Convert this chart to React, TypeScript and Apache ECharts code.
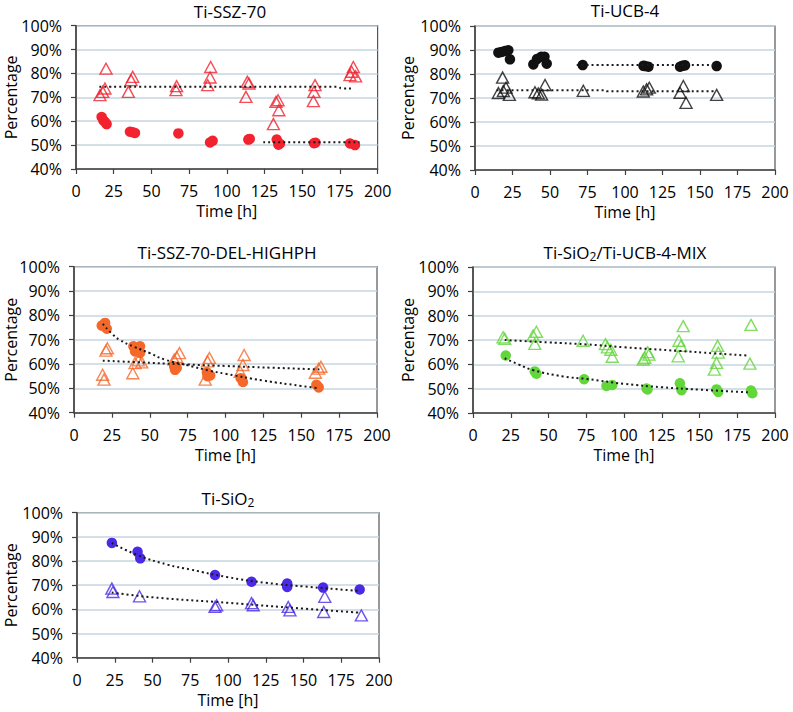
import React, { useEffect, useRef } from "react";
import * as echarts from "echarts";

// ---------- Data (x = Time [h], y = Percentage) ----------
const titles = ["Ti-SSZ-70", "Ti-UCB-4", "Ti-SSZ-70-DEL-HIGHPH", "Ti-SiO{s|2}/Ti-UCB-4-MIX", "Ti-SiO{s|2}"];
const yTicks = [40, 50, 60, 70, 80, 90, 100];
const xTicks = [0, 25, 50, 75, 100, 125, 150, 175, 200];

// Panel 1: Ti-SSZ-70
const ssz70Circles = [
  [17.0, 61.8], [18.1, 60.4], [19.2, 59.7], [20.3, 58.8], [35.8, 55.6], [37.5, 55.4], [39.1, 55.1],
  [67.9, 54.9], [88.9, 51.1], [90.6, 51.8], [114.3, 52.3], [115.2, 52.6], [133.1, 52.3], [134.2, 50.2],
  [135.2, 50.6], [157.8, 50.8], [158.8, 51.0], [181.7, 50.7], [185.0, 50.0],
];
const ssz70Triangles = [
  [15.9, 70.9], [17.7, 72.3], [19.2, 73.7], [19.9, 82.0], [34.7, 72.3], [36.5, 77.2], [37.6, 78.6],
  [66.3, 73.0], [66.7, 74.7], [87.3, 75.1], [88.9, 78.3], [89.3, 82.7], [112.7, 70.2], [113.6, 76.5],
  [114.7, 75.8], [130.9, 58.8], [132.6, 68.1], [134.0, 68.8], [134.5, 64.6], [157.4, 68.4],
  [157.8, 72.3], [158.5, 75.1], [181.7, 79.3], [182.8, 80.7], [183.9, 82.7], [185.4, 78.8],
];
const ssz70TrendCircles = [[124.2, 51.2], [188.0, 51.2]];
const ssz70TrendTriangles = [[15.5, 74.4], [174.0, 74.4], [176.0, 73.7], [183.0, 73.7]];

// Panel 2: Ti-UCB-4
const ucb4Circles = [
  [15.6, 88.9], [17.8, 89.2], [20.0, 89.6], [22.2, 89.9], [23.3, 86.1], [38.9, 84.0], [41.3, 86.2],
  [44.2, 87.2], [46.3, 87.2], [47.8, 84.3], [71.8, 83.7], [112.3, 83.4], [113.3, 83.3], [115.6, 83.0],
  [136.7, 83.0], [138.3, 83.4], [140.0, 83.6], [161.1, 83.3],
];
const ucb4Triangles = [
  [15.6, 72.1], [18.4, 78.5], [18.9, 72.9], [20.7, 74.3], [22.9, 71.3], [40.0, 72.4], [42.2, 71.9],
  [44.4, 71.4], [46.7, 75.4], [72.2, 73.0], [112.2, 72.7], [114.4, 73.6], [116.2, 74.3], [136.7, 72.2],
  [138.9, 75.0], [140.7, 68.0], [161.1, 71.3],
];
const ucb4TrendCircles = [[67.8, 83.7], [161.1, 83.7]];
const ucb4TrendTriangles = [[14.4, 73.2], [86.0, 73.2], [88.0, 72.8], [161.1, 72.8]];

// Panel 3: Ti-SSZ-70-DEL-HIGHPH
const delCircles = [
  [18.3, 75.8], [20.5, 76.9], [21.6, 74.5], [39.2, 67.3], [40.3, 65.2], [43.6, 67.3], [43.6, 64.6],
  [66.1, 59.0], [66.7, 57.6], [67.8, 58.4], [87.7, 56.6], [88.1, 55.0], [89.9, 55.3], [110.0, 54.2],
  [111.5, 52.6], [160.0, 51.5], [161.5, 50.4],
];
const delTriangles = [
  [18.9, 55.6], [19.8, 53.6], [21.1, 65.5], [22.0, 66.5], [38.8, 56.2], [40.3, 60.4], [42.5, 61.5],
  [44.7, 60.7], [66.1, 61.8], [67.8, 62.9], [69.6, 64.5], [86.6, 53.6], [88.1, 61.1], [89.4, 62.5],
  [109.7, 56.8], [111.5, 59.6], [112.3, 63.7], [159.3, 56.4], [161.5, 58.1], [163.0, 58.9],
];
const delTrendCircles = [
  [19, 76.5], [25, 72.5], [30, 70.0], [40, 67.0], [50, 64.5], [60, 61.8], [75, 59.5], [90, 57.2],
  [100, 56.0], [125, 53.2], [150, 51.0], [162, 50.0],
];
const delTrendTriangles = [[19, 61.4], [40, 60.8], [75, 59.8], [100, 59.2], [130, 58.5], [162, 57.8]];

// Panel 4: Ti-SiO2/Ti-UCB-4-MIX
const mixCircles = [
  [21.7, 63.6], [40.9, 57.1], [42.0, 56.1], [73.6, 53.9], [88.4, 51.1], [92.2, 51.5], [114.9, 50.1],
  [115.6, 49.7], [137.0, 52.2], [138.1, 49.4], [161.3, 49.7], [162.4, 48.7], [184.1, 49.2], [185.0, 48.1],
];
const mixTriangles = [
  [19.9, 71.1], [21.0, 70.5], [39.8, 71.8], [40.9, 68.4], [42.0, 73.4], [72.9, 69.7], [87.7, 68.3],
  [89.0, 67.0], [91.3, 66.0], [92.2, 63.1], [112.7, 62.0], [113.8, 62.7], [115.6, 65.0], [116.5, 64.0],
  [135.9, 63.3], [136.4, 69.7], [137.7, 67.6], [139.2, 75.7], [159.8, 57.8], [161.3, 60.6],
  [162.0, 67.6], [162.4, 64.8], [183.4, 60.3], [184.1, 76.2],
];
const mixTrendCircles = [[21, 62.5], [30, 60.0], [40, 57.6], [60, 55.0], [75, 54.0], [100, 52.0], [125, 50.6], [150, 49.6], [182, 48.5]];
const mixTrendTriangles = [[21, 70.0], [50, 69.0], [75, 68.2], [100, 67.0], [137, 65.5], [160, 64.5], [182, 63.6]];

// Panel 5: Ti-SiO2
const sio2Circles = [
  [23.1, 87.5], [40.1, 83.8], [41.9, 81.1], [91.4, 74.2], [115.6, 71.4], [139.2, 70.7], [139.2, 69.3],
  [163.0, 69.0], [187.2, 68.2],
];
const sio2Triangles = [
  [23.1, 68.6], [23.8, 67.2], [41.4, 65.4], [91.4, 61.0], [92.5, 61.7], [115.6, 62.6], [116.7, 61.7],
  [139.9, 61.0], [141.0, 59.6], [164.1, 65.2], [163.4, 58.9], [188.3, 57.5],
];
const sio2TrendCircles = [[23, 87.5], [40, 82.5], [60, 78.5], [75, 76.5], [100, 73.3], [125, 71.0], [150, 69.5], [187, 67.6]];
const sio2TrendTriangles = [[23, 67.0], [50, 65.0], [100, 62.7], [150, 60.3], [188, 58.6]];

const panelColors = ["#f2222e", "#111111", "#f4682a", "#62d63a", "#4a2ae6"];
const panelCircles = [ssz70Circles, ucb4Circles, delCircles, mixCircles, sio2Circles];
const panelTriangles = [ssz70Triangles, ucb4Triangles, delTriangles, mixTriangles, sio2Triangles];
const panelTrendC = [ssz70TrendCircles, ucb4TrendCircles, delTrendCircles, mixTrendCircles, sio2TrendCircles];
const panelTrendT = [ssz70TrendTriangles, ucb4TrendTriangles, delTrendTriangles, mixTrendTriangles, sio2TrendTriangles];

// ---------- Layout ----------
const gridBoxes = [
  { left: 76, top: 25.7, width: 301.6, height: 143.3 },
  { left: 475, top: 26, width: 300, height: 144 },
  { left: 74, top: 266.7, width: 303, height: 146 },
  { left: 473, top: 267, width: 302, height: 146 },
  { left: 77, top: 512.7, width: 302, height: 145 },
];
const yNameGaps = [57, 59, 55, 57, 58];
const titlePos = [
  [230, 11],
  [625, 10],
  [227, 252],
  [625, 252],
  [228, 498],
];

const FONT = "Open Sans";

export default function App() {
  const ref = useRef<HTMLDivElement>(null);
  useEffect(() => {
    if (!ref.current) return;
    const chart = echarts.init(ref.current, null, { renderer: "svg" });
    const grid: any[] = [];
    const xAxis: any[] = [];
    const yAxis: any[] = [];
    const series: any[] = [];
    const graphic: any[] = [];
    gridBoxes.forEach((g, i) => {
      grid.push({ ...g, show: true, borderColor: "#555555", borderWidth: 1.2, backgroundColor: "transparent" });
      xAxis.push({
        type: "value",
        gridIndex: i,
        min: xTicks[0],
        max: xTicks[xTicks.length - 1],
        interval: 25,
        name: "Time [h]",
        nameLocation: "middle",
        nameGap: 34,
        nameMoveOverlap: false,
        nameTextStyle: { fontSize: 16, color: "#000", fontFamily: FONT },
        axisLine: { show: true, lineStyle: { color: "#404040", width: 1.5 } },
        axisTick: { show: true, length: 5, lineStyle: { color: "#404040", width: 1.2 } },
        axisLabel: { fontSize: 16, color: "#000", margin: 14, fontFamily: FONT },
        splitLine: { show: false },
      });
      yAxis.push({
        type: "value",
        gridIndex: i,
        min: yTicks[0],
        max: yTicks[yTicks.length - 1],
        interval: 10,
        name: "Percentage",
        nameLocation: "middle",
        nameGap: yNameGaps[i],
        nameMoveOverlap: false,
        nameTextStyle: { fontSize: 16, color: "#000", fontFamily: FONT, lineHeight: 16 },
        axisLine: { show: true, lineStyle: { color: "#404040", width: 1.5 } },
        axisTick: { show: true, length: 5, lineStyle: { color: "#404040", width: 1.2 } },
        axisLabel: { fontSize: 16, color: "#000", margin: 14, fontFamily: FONT, formatter: "{value}%" },
        splitLine: { show: true, lineStyle: { color: "#c6d6df", width: 1.5 } },
      });
      const col = panelColors[i];
      series.push({
        type: "line",
        xAxisIndex: i,
        yAxisIndex: i,
        data: panelTrendT[i],
        smooth: true,
        symbol: "none",
        lineStyle: { color: "#1a1a1a", width: 2, type: [2, 3] },
        z: 3,
      });
      series.push({
        type: "line",
        xAxisIndex: i,
        yAxisIndex: i,
        data: panelTrendC[i],
        smooth: true,
        symbol: "none",
        lineStyle: { color: "#1a1a1a", width: 2, type: [2, 3] },
        z: 3,
      });
      series.push({
        type: "scatter",
        xAxisIndex: i,
        yAxisIndex: i,
        data: panelTriangles[i],
        symbol: "triangle",
        symbolSize: [12, 11],
        itemStyle: { color: "rgba(255,255,255,0)", borderColor: col, borderWidth: 1.4 },
        z: 2,
      });
      series.push({
        type: "scatter",
        xAxisIndex: i,
        yAxisIndex: i,
        data: panelCircles[i],
        symbol: "circle",
        symbolSize: 10.5,
        itemStyle: { color: col, opacity: 1 },
        z: 2,
      });
      graphic.push({
        type: "text",
        x: titlePos[i][0],
        y: titlePos[i][1],
        style: {
          text: titles[i],
          fontSize: 17,
          fontWeight: "normal",
          fontFamily: FONT,
          fill: "#000",
          align: "center",
          verticalAlign: "middle",
          rich: { s: { fontSize: 12, fontWeight: "normal", fontFamily: FONT, padding: [9, 0, 0, 0] } },
        },
      });
    });
    chart.setOption({
      animation: false,
      backgroundColor: "#ffffff",
      textStyle: { fontFamily: FONT },
      grid,
      xAxis,
      yAxis,
      series,
      graphic,
    });
    return () => chart.dispose();
  }, []);
  return <div ref={ref} style={{ position: "fixed", left: 0, top: 0, width: 793, height: 712 }} />;
}
